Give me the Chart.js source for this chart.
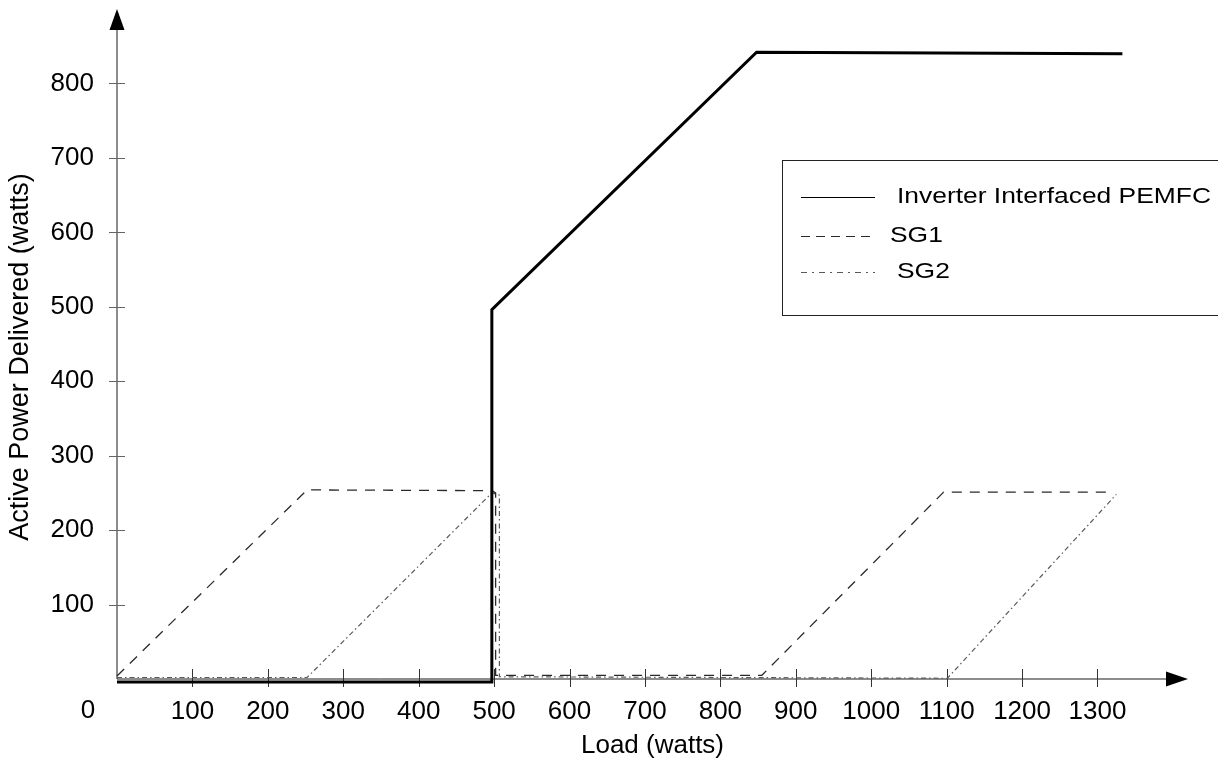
<!DOCTYPE html>
<html>
<head>
<meta charset="utf-8">
<script src="https://cdn.jsdelivr.net/npm/chart.js@4/dist/chart.umd.min.js"></script>
<style>
  html, body { margin: 0; padding: 0; background: #ffffff; }
  #wrap { width: 1218px; height: 769px; }
</style>
</head>
<body>
<div id="wrap"><canvas id="c" width="1218" height="769"></canvas></div>
<script>
// Series names
const seriesNames = ['Inverter Interfaced PEMFC', 'SG1', 'SG2'];

// Inverter interfaced PEMFC: load (W) vs delivered active power (W)
const pemfcLoad  = [0, 497, 497, 848, 1333];
const pemfcPower = [-4, -4, 496, 842, 840];

// Synchronous generator 1
const sg1Load  = [0, 252, 497, 502, 502, 855, 1096, 1320];
const sg1Power = [4, 254, 253, 250, 5, 5, 251, 251];

// Synchronous generator 2
const sg2Load  = [0, 252, 497, 507, 507, 1101, 1325];
const sg2Power = [2, 2, 250, 247, 3, 1, 248];

// Tick labels drawn along each axis
const xTickValues = [100, 200, 300, 400, 500, 600, 700, 800, 900, 1000, 1100, 1200, 1300];
const yTickValues = [100, 200, 300, 400, 500, 600, 700, 800];
const originLabel = '0';
const xTitle = 'Load (watts)';
const yTitle = 'Active Power Delivered (watts)';

const FONT = '"Liberation Sans", Arial, Helvetica, sans-serif';

function toPoints(xs, ys) {
  return xs.map((x, i) => ({ x: x, y: ys[i] }));
}

// Axes with arrow heads, cross tick marks, origin label and vertical title
const axesPlugin = {
  id: 'arrowAxes',
  beforeDatasetsDraw(chart) {
    const ctx = chart.ctx;
    const xs = chart.scales.x, ys = chart.scales.y;
    const x0 = xs.getPixelForValue(0);
    const y0 = ys.getPixelForValue(0);
    const area = chart.chartArea;
    ctx.save();
    ctx.strokeStyle = '#1a1a1a';
    ctx.fillStyle = '#000';
    ctx.lineWidth = 1;
    // vertical axis
    ctx.beginPath();
    ctx.moveTo(x0, y0);
    ctx.lineTo(x0, area.top + 20);
    ctx.stroke();
    ctx.beginPath();
    ctx.moveTo(x0, area.top);
    ctx.lineTo(x0 - 7.5, area.top + 21);
    ctx.lineTo(x0 + 7.5, area.top + 21);
    ctx.closePath();
    ctx.fill();
    // horizontal axis
    ctx.beginPath();
    ctx.moveTo(x0, y0);
    ctx.lineTo(area.right - 20, y0);
    ctx.stroke();
    ctx.beginPath();
    ctx.moveTo(area.right, y0);
    ctx.lineTo(area.right - 22, y0 - 7.5);
    ctx.lineTo(area.right - 22, y0 + 7.5);
    ctx.closePath();
    ctx.fill();
    // tick marks crossing the axes
    ctx.strokeStyle = '#333';
    xTickValues.forEach(v => {
      const px = Math.round(xs.getPixelForValue(v)) + 0.5;
      ctx.beginPath();
      ctx.moveTo(px, y0 - 10);
      ctx.lineTo(px, y0 + 8);
      ctx.stroke();
    });
    ctx.strokeStyle = '#666';
    yTickValues.forEach(v => {
      const py = Math.round(ys.getPixelForValue(v)) + 0.5;
      ctx.beginPath();
      ctx.moveTo(x0 - 8, py);
      ctx.lineTo(x0 + 8, py);
      ctx.stroke();
    });
    // origin label
    ctx.font = '26px ' + FONT;
    ctx.textAlign = 'center';
    ctx.textBaseline = 'middle';
    ctx.fillText(originLabel, x0 - 29, y0 + 32);
    // vertical axis title
    ctx.save();
    ctx.translate(21, 357);
    ctx.rotate(-Math.PI / 2);
    ctx.font = '27px ' + FONT;
    ctx.fillText(yTitle, 0, 0);
    ctx.restore();
    ctx.restore();
  }
};

// Boxed legend at the right
const legendPlugin = {
  id: 'boxLegend',
  afterDraw(chart) {
    const ctx = chart.ctx;
    ctx.save();
    ctx.strokeStyle = '#222';
    ctx.lineWidth = 1;
    ctx.strokeRect(782.5, 160.5, 460, 155);
    const rows = [197, 236, 272];
    const textX = [897, 890, 897];
    chart.data.datasets.forEach((ds, i) => {
      ctx.save();
      ctx.strokeStyle = ds.borderColor;
      ctx.lineWidth = 1;
      ctx.setLineDash(ds.legendDash);
      ctx.beginPath();
      ctx.moveTo(801, rows[i] + 0.5);
      ctx.lineTo(875, rows[i] + 0.5);
      ctx.stroke();
      ctx.restore();
      ctx.save();
      ctx.fillStyle = '#000';
      ctx.font = '22px ' + FONT;
      ctx.textAlign = 'left';
      ctx.textBaseline = 'middle';
      ctx.translate(textX[i], rows[i]);
      ctx.scale(1.2, 1);
      ctx.fillText(ds.label, 0, 0);
      ctx.restore();
    });
    ctx.restore();
  }
};

new Chart(document.getElementById('c'), {
  type: 'line',
  data: {
    datasets: [
      {
        label: seriesNames[0],
        data: toPoints(pemfcLoad, pemfcPower),
        borderColor: '#000000',
        borderWidth: 3,
        borderJoinStyle: 'miter',
        legendDash: [],
        clip: false
      },
      {
        label: seriesNames[1],
        data: toPoints(sg1Load, sg1Power),
        borderColor: '#2a2a2a',
        borderWidth: 1.3,
        borderDash: [10, 8],
        legendDash: [9, 6],
        clip: false
      },
      {
        label: seriesNames[2],
        data: toPoints(sg2Load, sg2Power),
        borderColor: '#5a5a5a',
        borderWidth: 1.2,
        borderDash: [5, 3, 1.5, 3],
        legendDash: [6, 5, 2, 5],
        clip: false
      }
    ]
  },
  options: {
    responsive: false,
    devicePixelRatio: 1,
    animation: false,
    events: [],
    layout: { padding: { top: 9, right: 30, left: 0, bottom: 0 } },
    elements: {
      point: { radius: 0 },
      line: { tension: 0, fill: false }
    },
    plugins: {
      legend: { display: false },
      tooltip: { enabled: false }
    },
    scales: {
      x: {
        type: 'linear',
        min: 0,
        max: 1420,
        grid: { display: false, drawTicks: false },
        border: { display: false },
        ticks: {
          stepSize: 100,
          autoSkip: false,
          maxRotation: 0,
          padding: 17,
          color: '#000',
          font: { family: FONT, size: 26 },
          callback: v => (xTickValues.includes(v) ? String(v) : '')
        },
        title: {
          display: true,
          text: xTitle,
          color: '#000',
          font: { family: FONT, size: 26 },
          padding: { top: 8, bottom: 8 }
        },
        afterFit(scale) {
          scale.height = 90;
          scale.paddingLeft = 0;
          scale.paddingRight = 0;
        }
      },
      y: {
        type: 'linear',
        min: 0,
        max: 900,
        grid: { display: false, drawTicks: false },
        border: { display: false },
        ticks: {
          stepSize: 100,
          padding: 23,
          color: '#000',
          font: { family: FONT, size: 26 },
          callback: v => (yTickValues.includes(v) ? String(v) : '')
        },
        afterFit(scale) {
          scale.width = 117;
          scale.paddingTop = 0;
          scale.paddingBottom = 0;
        }
      }
    }
  },
  plugins: [axesPlugin, legendPlugin]
});
</script>
</body>
</html>
